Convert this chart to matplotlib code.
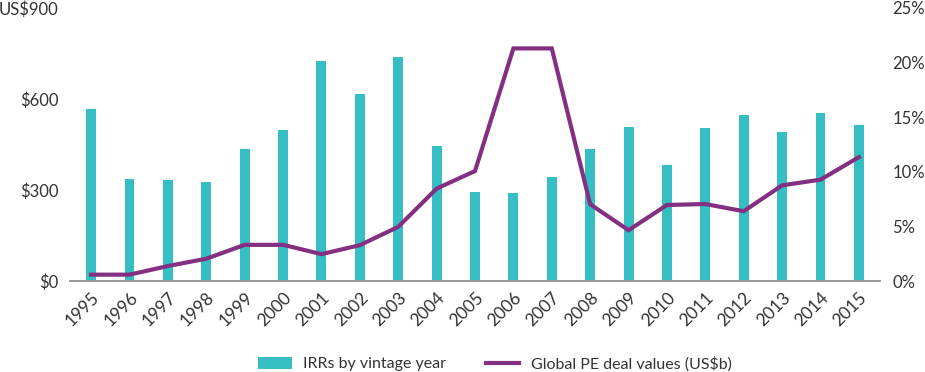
import matplotlib
matplotlib.use("Agg")
import matplotlib.pyplot as plt
import numpy as np

# data
years = ["1995", "1996", "1997", "1998", "1999", "2000", "2001", "2002", "2003", "2004",
         "2005", "2006", "2007", "2008", "2009", "2010", "2011", "2012", "2013", "2014", "2015"]
irr_bars = [567, 337, 333, 327, 434, 499, 725, 616, 739, 446,
            294, 291, 343, 434, 507, 381, 503, 548, 491, 553, 513]
deal_line = [0.58, 0.58, 1.37, 2.04, 3.31, 3.31, 2.46, 3.28, 4.96, 8.46,
             10.07, 21.3, 21.3, 7.03, 4.65, 6.96, 7.05, 6.39, 8.76, 9.28, 11.34]
left_ticks = [0, 300, 600, 900]
left_labels = ["$0", "$300", "$600", "US$900"]
right_ticks = [0, 5, 10, 15, 20, 25]

teal = "#36bfc2"
purple = "#833082"
txt = "#333333"

plt.rcParams['font.family'] = ['Lato', 'DejaVu Sans']

fig = plt.figure(figsize=(9.25, 3.72), dpi=100)
ax = fig.add_axes([70/925, 91/372, 810/925, 273/372])
ax2 = ax.twinx()

x = np.arange(len(years))
ax.bar(x, irr_bars, width=0.26, color=teal, label="IRRs by vintage year", zorder=2)
ax2.plot(x, deal_line, color=purple, lw=3.0, label="Global PE deal values (US$b)",
         solid_joinstyle='miter', zorder=3)

ax.set_xlim(-0.55, 20.55)
ax.set_ylim(0, 900)
ax2.set_ylim(0, 25)

ax.set_yticks(left_ticks)
ax.set_yticklabels(left_labels)
ax2.set_yticks(right_ticks)
ax2.set_yticklabels([f"{t}%" for t in right_ticks])

ax.set_xticks(x)
ax.set_xticklabels(years, rotation=45, ha='right', rotation_mode='anchor')

for a in (ax, ax2):
    for s in ['top', 'left', 'right']:
        a.spines[s].set_visible(False)
    a.spines['bottom'].set_color('#999999')
    a.spines['bottom'].set_linewidth(1.2)
    a.tick_params(length=0, labelsize=12, colors=txt)
ax.tick_params(axis='y', pad=8.5)
ax2.tick_params(axis='y', pad=9)
ax.tick_params(axis='x', pad=6, labelsize=12.5)

h1, l1 = ax.get_legend_handles_labels()
h2, l2 = ax2.get_legend_handles_labels()
fig.legend(h1 + h2, l1 + l2, loc='center', bbox_to_anchor=(0.535, 0.022), ncol=2,
           frameon=False, fontsize=11.5, labelcolor=txt, handlelength=2.1,
           handleheight=0.8, handletextpad=0.7, columnspacing=2.5)

fig.savefig("out.png", dpi=100)
